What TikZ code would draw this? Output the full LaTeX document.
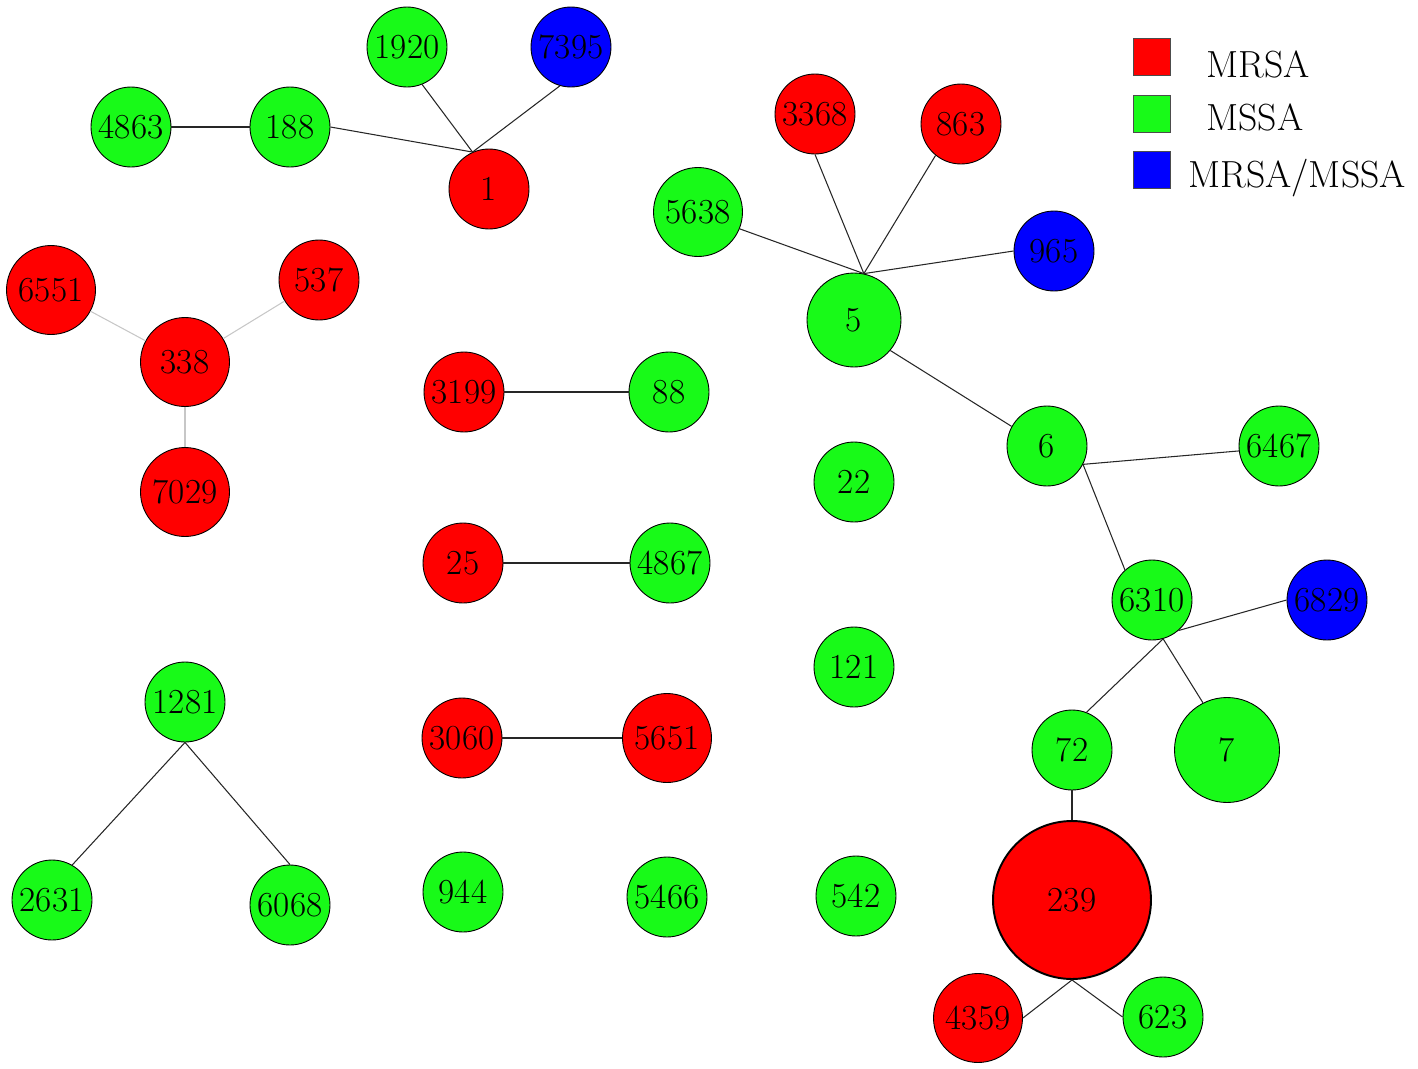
\documentclass[tikz,border=0pt]{standalone}
\usepackage{fontspec}
\usepackage{tikz}

\definecolor{stred}{RGB}{255,0,0}
\definecolor{stgreen}{RGB}{24,250,24}
\definecolor{stblue}{RGB}{0,0,255}

\begin{document}
\begin{tikzpicture}[x=0.02cm, y=-0.02cm,
        stnode/.style={circle, draw=black, line width=0.5pt, inner sep=0pt, minimum size=1.6cm, font=\fontsize{20}{24}\selectfont},
        big/.style={minimum size=1.78cm},
        mrsa/.style={stnode, fill=stred},
        mssa/.style={stnode, fill=stgreen},
        mixed/.style={stnode, fill=stblue},
        link/.style={line width=0.6pt, black!85},
        faint/.style={line width=0.6pt, black!22},
        legbox/.style={draw=black!70, line width=0.5pt, minimum size=0.74cm, inner sep=0pt},
        legtext/.style={anchor=base west, inner sep=0pt, font=\fontsize{21.5}{25}\selectfont}]

        \useasboundingbox (0,0) rectangle (1418,1069);

        % cluster round ST1
        \node[mssa] (n1920) at (407,47) {1920};
        \node[mixed] (n7395) at (571,47) {7395};
        \node[mssa] (n4863) at (131,127) {4863};
        \node[mssa] (n188) at (290,127) {188};
        \node[mrsa] (n1) at (489,189) {1};

        % cluster round ST338
        \node[mrsa, big] (n6551) at (51,290) {6551};
        \node[mrsa] (n537) at (319,280) {537};
        \node[mrsa, big] (n338) at (185,362) {338};
        \node[mrsa, big] (n7029) at (185,492) {7029};

        % pairs
        \node[mrsa] (n3199) at (464,392) {3199};
        \node[mssa] (n88) at (669,392) {88};
        \node[mrsa] (n25) at (463,563) {25};
        \node[mssa] (n4867) at (670,563) {4867};
        \node[mrsa] (n3060) at (462,738) {3060};
        \node[mrsa, big] (n5651) at (667,738) {5651};

        % singletons
        \node[mssa] (n22) at (854,482) {22};
        \node[mssa] (n121) at (854,667) {121};
        \node[mssa] (n944) at (463,892) {944};
        \node[mssa] (n5466) at (667,897) {5466};
        \node[mssa] (n542) at (856,896) {542};

        % cluster round ST1281
        \node[mssa] (n1281) at (185,702) {1281};
        \node[mssa] (n2631) at (52,900) {2631};
        \node[mssa] (n6068) at (290,905) {6068};

        % big cluster ST5 ... ST239
        \node[mrsa] (n3368) at (815,114) {3368};
        \node[mrsa] (n863) at (961,124) {863};
        \node[mssa, big] (n5638) at (698,212) {5638};
        \node[mixed] (n965) at (1054,251) {965};
        \node[mssa, minimum size=1.88cm] (n5) at (854,320) {5};
        \node[mssa] (n6) at (1047,446) {6};
        \node[mssa] (n6467) at (1279,446) {6467};
        \node[mssa] (n6310) at (1152,600) {6310};
        \node[mixed] (n6829) at (1327,600) {6829};
        \node[mssa] (n72) at (1072,750) {72};
        \node[mssa, minimum size=2.1cm] (n7) at (1227,750) {7};
        \node[mrsa, minimum size=3.16cm, line width=1.1pt] (n239) at (1072,900) {239};
        \node[mrsa, big] (n4359) at (978,1018) {4359};
        \node[mssa] (n623) at (1163,1017) {623};

        % links
        \draw[link] (n4863) -- (n188);
        \draw[link] (n188.east) -- (n1.114);
        \draw[link] (n1920.-68) -- (n1.114);
        \draw[link] (n7395.-106) -- (n1.114);
        \draw[faint] (n6551) -- (n338);
        \draw[faint] (n537) -- (n338);
        \draw[faint] (n338) -- (n7029);
        \draw[link] (n3199) -- (n88);
        \draw[link] (n25) -- (n4867);
        \draw[link] (n3060) -- (n5651);
        \draw[link] (n1281.south) -- (n2631.60);
        \draw[link] (n1281.south) -- (n6068.north);
        \draw[link] (n5638.-22) -- (n5.78);
        \draw[link] (n3368.south) -- (n5.78);
        \draw[link] (n863.-129) -- (n5.78);
        \draw[link] (n965.west) -- (n5.78);
        \draw[link] (n5.-40) -- (n6.151);
        \draw[link] (n6.-27) -- (n6467.-173);
        \draw[link] (n6.-27) -- (n6310.132);
        \draw[link] (n6310.-49) -- (n6829.west);
        \draw[link] (n6310.-74) -- (n72.69);
        \draw[link] (n6310.-74) -- (n7.117);
        \draw[link] (n72) -- (n239);
        \draw[link] (n239.south) -- (n4359.east);
        \draw[link] (n239.south) -- (n623.west);

        % legend
        \node[legbox, fill=stred] (kmrsa) at (1152,57) {};
        \node[legbox, fill=stgreen] (kmssa) at (1152,114) {};
        \node[legbox, fill=stblue] (kmixed) at (1152,170) {};
        \node[legtext] (tmrsa) at (1206,77) {MRSA};
        \node[legtext] (tmssa) at (1206,130) {MSSA};
        \node[legtext] (tmixed) at (1188,187) {MRSA/MSSA};
\end{tikzpicture}
\end{document}
